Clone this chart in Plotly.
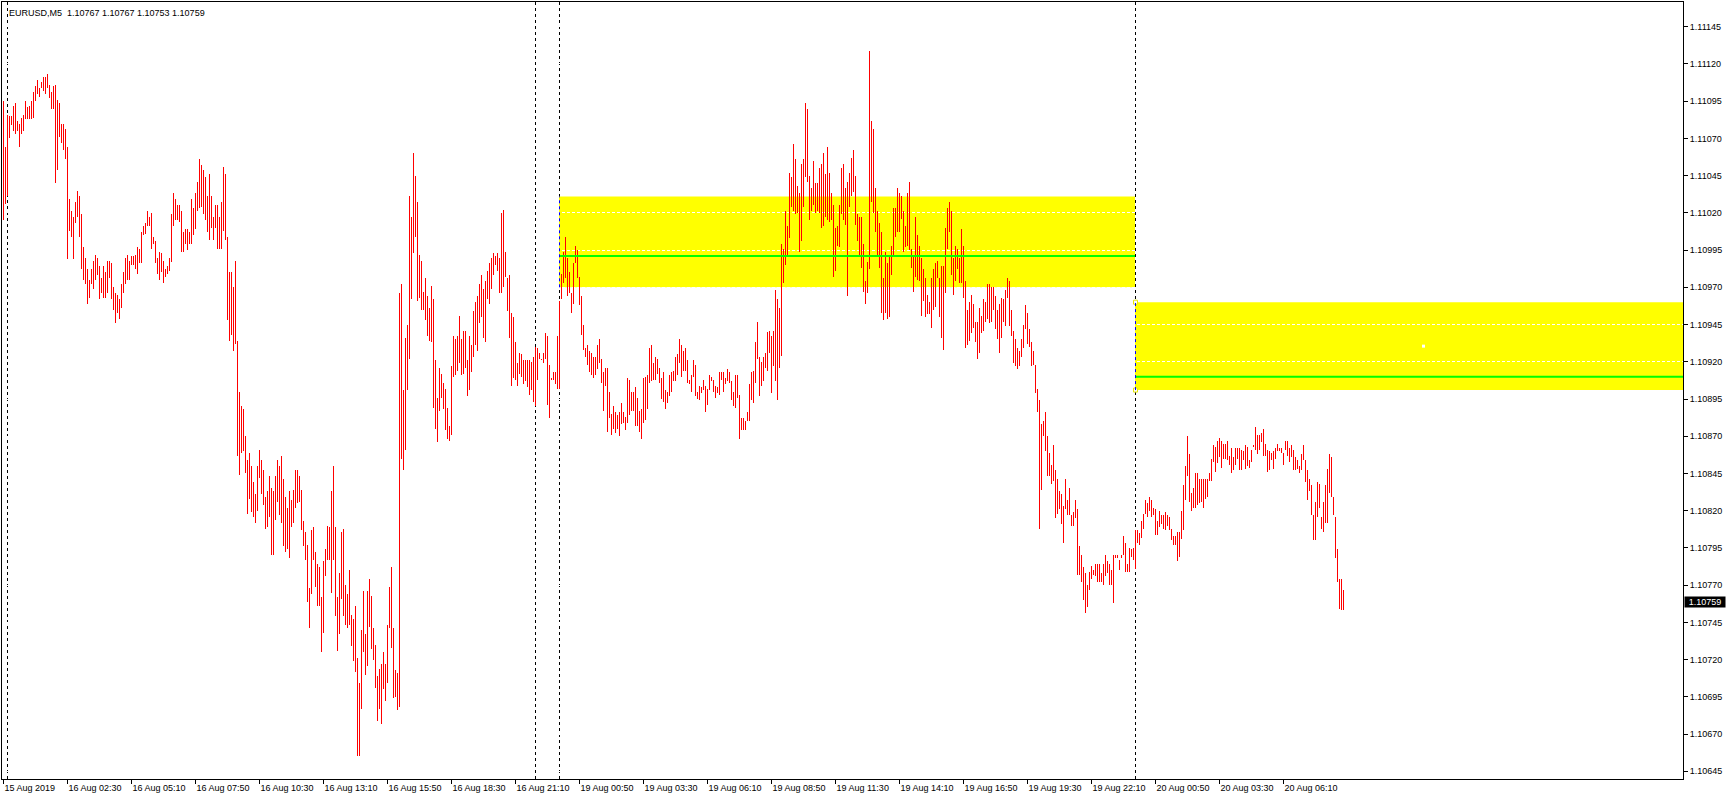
import numpy as np
import plotly.graph_objects as go

SYMBOL = "EURUSD"
TIMEFRAME = "M5"

# High / low of each M5 bar (bar index 0 = leftmost bar)
HIGH = [
    1.11095, 1.11064, 1.11086, 1.11085, 1.11085, 1.11092, 1.11094, 1.11082, 1.11080, 1.11084,
    1.11086, 1.11095, 1.11091, 1.11092, 1.11095, 1.11101, 1.11105, 1.11109, 1.11104, 1.11108,
    1.11111, 1.11111, 1.11113, 1.11106, 1.11101, 1.11105, 1.11106, 1.11096, 1.11094, 1.11080,
    1.11080, 1.11076, 1.11064, 1.11029, 1.11021, 1.11017, 1.11027, 1.11035, 1.11031, 1.11019,
    1.10997, 1.10990, 1.10982, 1.10975, 1.10982, 1.10988, 1.10992, 1.10990, 1.10984, 1.10976,
    1.10984, 1.10980, 1.10988, 1.10988, 1.10986, 1.10970, 1.10966, 1.10965, 1.10962, 1.10972,
    1.10980, 1.10990, 1.10992, 1.10988, 1.10991, 1.10991, 1.10992, 1.10997, 1.10996, 1.11007,
    1.11011, 1.11013, 1.11021, 1.11017, 1.11020, 1.11004, 1.11001, 1.10990, 1.10994, 1.10993,
    1.10988, 1.10982, 1.10984, 1.10990, 1.11019, 1.11033, 1.11029, 1.11025, 1.11025, 1.11021,
    1.11007, 1.11009, 1.11009, 1.11007, 1.11029, 1.11023, 1.11033, 1.11041, 1.11056, 1.11052,
    1.11049, 1.11044, 1.11031, 1.11046, 1.11031, 1.11017, 1.11025, 1.11025, 1.11017, 1.11027,
    1.11051, 1.11046, 1.11004, 1.10980, 1.10980, 1.10970, 1.10988, 1.10934, 1.10900, 1.10890,
    1.10888, 1.10870, 1.10854, 1.10859, 1.10850, 1.10839, 1.10831, 1.10850, 1.10861, 1.10854,
    1.10847, 1.10829, 1.10833, 1.10843, 1.10835, 1.10833, 1.10843, 1.10854, 1.10850, 1.10857,
    1.10841, 1.10829, 1.10822, 1.10833, 1.10827, 1.10834, 1.10847, 1.10847, 1.10843, 1.10834,
    1.10813, 1.10806, 1.10797, 1.10768, 1.10807, 1.10809, 1.10792, 1.10784, 1.10782, 1.10762,
    1.10786, 1.10794, 1.10810, 1.10809, 1.10833, 1.10850, 1.10809, 1.10762, 1.10778, 1.10806,
    1.10808, 1.10770, 1.10764, 1.10780, 1.10750, 1.10747, 1.10756, 1.10721, 1.10704, 1.10740,
    1.10766, 1.10737, 1.10766, 1.10774, 1.10763, 1.10741, 1.10730, 1.10709, 1.10714, 1.10717,
    1.10725, 1.10717, 1.10743, 1.10769, 1.10782, 1.10741, 1.10713, 1.10711, 1.10966, 1.10972,
    1.10901, 1.10936, 1.10945, 1.11031, 1.11017, 1.11060, 1.11045, 1.11027, 1.10992, 1.10988,
    1.10967, 1.10976, 1.10964, 1.10956, 1.10971, 1.10962, 1.10921, 1.10896, 1.10916, 1.10912,
    1.10906, 1.10902, 1.10889, 1.10877, 1.10917, 1.10937, 1.10935, 1.10937, 1.10951, 1.10935,
    1.10941, 1.10941, 1.10921, 1.10937, 1.10931, 1.10954, 1.10960, 1.10964, 1.10972, 1.10978,
    1.10969, 1.10974, 1.10981, 1.10986, 1.10990, 1.10993, 1.10991, 1.10993, 1.10990, 1.11020,
    1.11022, 1.10994, 1.10976, 1.10978, 1.10953, 1.10950, 1.10933, 1.10919, 1.10926, 1.10925,
    1.10921, 1.10921, 1.10921, 1.10921, 1.10920, 1.10923, 1.10930, 1.10929, 1.10926, 1.10922,
    1.10926, 1.10939, 1.10937, 1.10918, 1.10909, 1.10913, 1.10913, 1.10937, 1.10961, 1.10979,
    1.10994, 1.11004, 1.10990, 1.10980, 1.10966, 1.10986, 1.10998, 1.10995, 1.10977, 1.10964,
    1.10945, 1.10929, 1.10931, 1.10927, 1.10926, 1.10923, 1.10923, 1.10931, 1.10935, 1.10922,
    1.10913, 1.10916, 1.10916, 1.10900, 1.10885, 1.10890, 1.10886, 1.10884, 1.10886, 1.10892,
    1.10886, 1.10883, 1.10909, 1.10908, 1.10900, 1.10900, 1.10903, 1.10896, 1.10887, 1.10888,
    1.10909, 1.10910, 1.10911, 1.10929, 1.10931, 1.10919, 1.10923, 1.10922, 1.10916, 1.10909,
    1.10913, 1.10901, 1.10900, 1.10911, 1.10913, 1.10914, 1.10923, 1.10925, 1.10935, 1.10931,
    1.10927, 1.10929, 1.10921, 1.10908, 1.10911, 1.10921, 1.10918, 1.10900, 1.10904, 1.10903,
    1.10908, 1.10904, 1.10902, 1.10911, 1.10910, 1.10908, 1.10904, 1.10903, 1.10913, 1.10913,
    1.10913, 1.10909, 1.10915, 1.10913, 1.10907, 1.10900, 1.10911, 1.10911, 1.10898, 1.10882,
    1.10882, 1.10880, 1.10886, 1.10905, 1.10913, 1.10914, 1.10933, 1.10947, 1.10923, 1.10920,
    1.10923, 1.10926, 1.10940, 1.10941, 1.10937, 1.10941, 1.10968, 1.10962, 1.10956, 1.10999,
    1.10996, 1.11021, 1.11011, 1.11047, 1.11044, 1.11066, 1.11056, 1.11038, 1.11033, 1.11053,
    1.11056, 1.11094, 1.11090, 1.11045, 1.11037, 1.11055, 1.11040, 1.11040, 1.11050, 1.11053,
    1.11060, 1.11046, 1.11064, 1.11047, 1.11033, 1.11025, 1.11010, 1.11011, 1.11025, 1.11050,
    1.11053, 1.11037, 1.11041, 1.11047, 1.11057, 1.11062, 1.11045, 1.11019, 1.11017, 1.11017,
    1.10999, 1.10974, 1.10987, 1.11129, 1.11082, 1.11076, 1.11037, 1.11021, 1.11013, 1.11007,
    1.10976, 1.10994, 1.10986, 1.10992, 1.10998, 1.11023, 1.11023, 1.11037, 1.11033, 1.11031,
    1.11021, 1.11011, 1.11033, 1.11041, 1.10996, 1.10992, 1.11017, 1.11005, 1.10998, 1.10990,
    1.10982, 1.10976, 1.10965, 1.10960, 1.10976, 1.10982, 1.10986, 1.10988, 1.10976, 1.10984,
    1.10984, 1.11010, 1.11023, 1.11027, 1.11021, 1.10990, 1.10998, 1.10996, 1.10990, 1.11009,
    1.10998, 1.10974, 1.10955, 1.10960, 1.10965, 1.10959, 1.10947, 1.10947, 1.10956, 1.10951,
    1.10962, 1.10960, 1.10972, 1.10972, 1.10970, 1.10970, 1.10964, 1.10955, 1.10959, 1.10963,
    1.10962, 1.10968, 1.10976, 1.10974, 1.10955, 1.10941, 1.10935, 1.10929, 1.10927, 1.10935,
    1.10945, 1.10958, 1.10953, 1.10942, 1.10933, 1.10927, 1.10918, 1.10902, 1.10894, 1.10878,
    1.10880, 1.10886, 1.10870, 1.10859, 1.10851, 1.10864, 1.10847, 1.10841, 1.10833, 1.10831,
    1.10823, 1.10841, 1.10827, 1.10835, 1.10817, 1.10819, 1.10827, 1.10821, 1.10796, 1.10790,
    1.10782, 1.10778, 1.10770, 1.10779, 1.10783, 1.10780, 1.10784, 1.10784, 1.10784, 1.10778,
    1.10784, 1.10790, 1.10786, 1.10784, 1.10780, 1.10790, 1.10790, 1.10790, 1.10787, 1.10790,
    1.10803, 1.10798, 1.10784, 1.10795, 1.10794, 1.10795, 1.10807, 1.10807, 1.10805, 1.10813,
    1.10818, 1.10827, 1.10825, 1.10829, 1.10827, 1.10822, 1.10821, 1.10813, 1.10820, 1.10817,
    1.10817, 1.10819, 1.10817, 1.10816, 1.10808, 1.10803, 1.10803, 1.10806, 1.10806, 1.10820,
    1.10837, 1.10850, 1.10870, 1.10858, 1.10832, 1.10835, 1.10845, 1.10845, 1.10841, 1.10841,
    1.10841, 1.10841, 1.10841, 1.10845, 1.10855, 1.10864, 1.10863, 1.10867, 1.10869, 1.10867,
    1.10865, 1.10865, 1.10867, 1.10857, 1.10862, 1.10856, 1.10862, 1.10862, 1.10862, 1.10861,
    1.10860, 1.10864, 1.10863, 1.10854, 1.10861, 1.10864, 1.10876, 1.10871, 1.10871, 1.10872,
    1.10875, 1.10865, 1.10861, 1.10860, 1.10859, 1.10860, 1.10862, 1.10865, 1.10862, 1.10862,
    1.10859, 1.10867, 1.10867, 1.10862, 1.10864, 1.10861, 1.10856, 1.10854, 1.10850, 1.10858,
    1.10864, 1.10854, 1.10847, 1.10841, 1.10837, 1.10817, 1.10826, 1.10839, 1.10838, 1.10816,
    1.10826, 1.10837, 1.10848, 1.10858, 1.10856, 1.10829, 1.10816, 1.10794, 1.10774, 1.10774,
    1.10767,
]

LOW = [
    1.11015, 1.11026, 1.11031, 1.11070, 1.11079, 1.11075, 1.11073, 1.11075, 1.11064, 1.11073,
    1.11075, 1.11083, 1.11083, 1.11083, 1.11083, 1.11084, 1.11095, 1.11100, 1.11098, 1.11104,
    1.11102, 1.11100, 1.11104, 1.11097, 1.11090, 1.11090, 1.11040, 1.11049, 1.11071, 1.11067,
    1.11062, 1.11056, 1.10989, 1.11008, 1.11004, 1.10989, 1.11013, 1.11017, 1.11004, 1.10982,
    1.10975, 1.10972, 1.10959, 1.10963, 1.10972, 1.10969, 1.10975, 1.10978, 1.10962, 1.10966,
    1.10963, 1.10963, 1.10966, 1.10976, 1.10962, 1.10955, 1.10946, 1.10953, 1.10949, 1.10956,
    1.10966, 1.10972, 1.10975, 1.10975, 1.10985, 1.10985, 1.10982, 1.10979, 1.10986, 1.10986,
    1.11005, 1.11006, 1.11011, 1.11011, 1.10996, 1.10999, 1.10986, 1.10979, 1.10975, 1.10980,
    1.10973, 1.10977, 1.10979, 1.10981, 1.10987, 1.11011, 1.11015, 1.11015, 1.11014, 1.10994,
    1.10994, 1.10999, 1.10995, 1.10999, 1.10999, 1.11005, 1.11009, 1.11021, 1.11023, 1.11024,
    1.11019, 1.11015, 1.11007, 1.11002, 1.11010, 1.11002, 1.11010, 1.10996, 1.10996, 1.10996,
    1.11008, 1.11002, 1.10948, 1.10934, 1.10938, 1.10927, 1.10932, 1.10857, 1.10844, 1.10859,
    1.10860, 1.10845, 1.10818, 1.10828, 1.10819, 1.10816, 1.10812, 1.10820, 1.10842, 1.10831,
    1.10824, 1.10808, 1.10809, 1.10816, 1.10790, 1.10790, 1.10814, 1.10826, 1.10817, 1.10812,
    1.10796, 1.10792, 1.10794, 1.10788, 1.10809, 1.10812, 1.10822, 1.10825, 1.10826, 1.10807,
    1.10796, 1.10787, 1.10759, 1.10741, 1.10764, 1.10787, 1.10769, 1.10756, 1.10756, 1.10725,
    1.10738, 1.10776, 1.10787, 1.10787, 1.10765, 1.10787, 1.10749, 1.10726, 1.10737, 1.10761,
    1.10749, 1.10743, 1.10741, 1.10743, 1.10729, 1.10719, 1.10712, 1.10655, 1.10655, 1.10687,
    1.10725, 1.10710, 1.10716, 1.10742, 1.10727, 1.10720, 1.10701, 1.10679, 1.10687, 1.10677,
    1.10700, 1.10692, 1.10704, 1.10741, 1.10728, 1.10694, 1.10695, 1.10686, 1.10688, 1.10855,
    1.10847, 1.10861, 1.10901, 1.10922, 1.10962, 1.10993, 1.11004, 1.10961, 1.10963, 1.10955,
    1.10955, 1.10948, 1.10937, 1.10934, 1.10933, 1.10889, 1.10875, 1.10866, 1.10887, 1.10896,
    1.10888, 1.10874, 1.10868, 1.10867, 1.10871, 1.10910, 1.10911, 1.10914, 1.10919, 1.10911,
    1.10912, 1.10916, 1.10897, 1.10901, 1.10913, 1.10923, 1.10931, 1.10927, 1.10946, 1.10950,
    1.10936, 1.10933, 1.10962, 1.10959, 1.10969, 1.10978, 1.10985, 1.10981, 1.10966, 1.10966,
    1.10970, 1.10977, 1.10954, 1.10936, 1.10904, 1.10909, 1.10908, 1.10904, 1.10912, 1.10910,
    1.10905, 1.10907, 1.10903, 1.10898, 1.10901, 1.10893, 1.10890, 1.10908, 1.10922, 1.10921,
    1.10919, 1.10922, 1.10891, 1.10882, 1.10908, 1.10908, 1.10905, 1.10902, 1.10902, 1.10962,
    1.10973, 1.10976, 1.10964, 1.10966, 1.10953, 1.10959, 1.10986, 1.10976, 1.10958, 1.10938,
    1.10928, 1.10923, 1.10918, 1.10913, 1.10911, 1.10909, 1.10911, 1.10915, 1.10919, 1.10906,
    1.10887, 1.10904, 1.10873, 1.10882, 1.10871, 1.10875, 1.10872, 1.10875, 1.10870, 1.10878,
    1.10879, 1.10874, 1.10879, 1.10884, 1.10887, 1.10887, 1.10877, 1.10877, 1.10873, 1.10868,
    1.10879, 1.10881, 1.10888, 1.10906, 1.10907, 1.10908, 1.10908, 1.10912, 1.10906, 1.10895,
    1.10893, 1.10888, 1.10892, 1.10897, 1.10900, 1.10907, 1.10907, 1.10911, 1.10919, 1.10910,
    1.10914, 1.10914, 1.10906, 1.10905, 1.10900, 1.10910, 1.10897, 1.10895, 1.10894, 1.10899,
    1.10901, 1.10886, 1.10891, 1.10901, 1.10907, 1.10900, 1.10896, 1.10899, 1.10898, 1.10908,
    1.10900, 1.10905, 1.10907, 1.10906, 1.10894, 1.10890, 1.10889, 1.10896, 1.10868, 1.10874,
    1.10874, 1.10874, 1.10880, 1.10880, 1.10894, 1.10892, 1.10906, 1.10922, 1.10897, 1.10904,
    1.10907, 1.10916, 1.10914, 1.10926, 1.10899, 1.10917, 1.10907, 1.10894, 1.10916, 1.10924,
    1.10973, 1.10985, 1.10992, 1.11003, 1.11024, 1.11021, 1.11019, 1.11020, 1.10994, 1.11001,
    1.11024, 1.11044, 1.11041, 1.11015, 1.11021, 1.11025, 1.11020, 1.11021, 1.11020, 1.11010,
    1.11011, 1.11017, 1.11015, 1.11014, 1.11015, 1.10977, 1.10981, 1.10998, 1.10997, 1.11019,
    1.11015, 1.11012, 1.10964, 1.11024, 1.11031, 1.11034, 1.11012, 1.11001, 1.10991, 1.10983,
    1.10967, 1.10959, 1.10966, 1.10982, 1.11027, 1.11020, 1.11007, 1.10992, 1.10983, 1.10953,
    1.10948, 1.10953, 1.10949, 1.10950, 1.10978, 1.10991, 1.11004, 1.11007, 1.11007, 1.11016,
    1.10994, 1.10997, 1.10998, 1.10995, 1.10983, 1.10967, 1.10977, 1.10975, 1.10974, 1.10951,
    1.10961, 1.10950, 1.10952, 1.10952, 1.10943, 1.10955, 1.10957, 1.10976, 1.10950, 1.10936,
    1.10928, 1.10966, 1.10996, 1.11007, 1.10978, 1.10965, 1.10974, 1.10982, 1.10973, 1.10973,
    1.10963, 1.10929, 1.10931, 1.10934, 1.10939, 1.10943, 1.10933, 1.10922, 1.10926, 1.10939,
    1.10941, 1.10947, 1.10949, 1.10946, 1.10947, 1.10955, 1.10942, 1.10935, 1.10926, 1.10936,
    1.10947, 1.10944, 1.10963, 1.10944, 1.10937, 1.10919, 1.10917, 1.10915, 1.10917, 1.10923,
    1.10929, 1.10942, 1.10932, 1.10930, 1.10917, 1.10918, 1.10899, 1.10886, 1.10808, 1.10834,
    1.10870, 1.10860, 1.10843, 1.10843, 1.10838, 1.10840, 1.10815, 1.10818, 1.10821, 1.10811,
    1.10798, 1.10821, 1.10817, 1.10817, 1.10810, 1.10810, 1.10815, 1.10777, 1.10777, 1.10772,
    1.10760, 1.10751, 1.10755, 1.10767, 1.10774, 1.10777, 1.10776, 1.10772, 1.10772, 1.10772,
    1.10770, 1.10776, 1.10778, 1.10770, 1.10770, 1.10758, 1.10788, 1.10788, 1.10780, 1.10788,
    1.10790, 1.10779, 1.10779, 1.10779, 1.10789, 1.10787, 1.10781, 1.10798, 1.10797, 1.10802,
    1.10808, 1.10818, 1.10816, 1.10820, 1.10816, 1.10817, 1.10804, 1.10804, 1.10809, 1.10811,
    1.10808, 1.10807, 1.10810, 1.10807, 1.10800, 1.10797, 1.10797, 1.10786, 1.10789, 1.10801,
    1.10807, 1.10827, 1.10843, 1.10826, 1.10820, 1.10822, 1.10822, 1.10824, 1.10825, 1.10826,
    1.10822, 1.10828, 1.10829, 1.10840, 1.10840, 1.10853, 1.10846, 1.10852, 1.10856, 1.10849,
    1.10855, 1.10855, 1.10854, 1.10851, 1.10845, 1.10847, 1.10851, 1.10855, 1.10847, 1.10847,
    1.10854, 1.10848, 1.10850, 1.10849, 1.10853, 1.10863, 1.10861, 1.10858, 1.10861, 1.10866,
    1.10857, 1.10857, 1.10846, 1.10847, 1.10854, 1.10848, 1.10855, 1.10860, 1.10860, 1.10859,
    1.10851, 1.10861, 1.10857, 1.10853, 1.10856, 1.10847, 1.10847, 1.10848, 1.10845, 1.10847,
    1.10854, 1.10839, 1.10827, 1.10833, 1.10817, 1.10800, 1.10800, 1.10816, 1.10822, 1.10808,
    1.10806, 1.10812, 1.10812, 1.10832, 1.10829, 1.10817, 1.10788, 1.10772, 1.10754, 1.10753,
    1.10753,
]

LAST_OPEN = 1.10767
LAST_CLOSE = 1.10759

TICK_BARS = [0, 32, 64, 96, 128, 160, 192, 224, 256, 288, 320,
             352, 384, 416, 448, 480, 512, 544, 576, 608, 640]
TICK_TEXT = ["15 Aug 2019", "16 Aug 02:30", "16 Aug 05:10", "16 Aug 07:50",
             "16 Aug 10:30", "16 Aug 13:10", "16 Aug 15:50", "16 Aug 18:30",
             "16 Aug 21:10", "19 Aug 00:50", "19 Aug 03:30", "19 Aug 06:10",
             "19 Aug 08:50", "19 Aug 11:30", "19 Aug 14:10", "19 Aug 16:50",
             "19 Aug 19:30", "19 Aug 22:10", "20 Aug 00:50", "20 Aug 03:30",
             "20 Aug 06:10"]
PRICE_TICKS = [1.10645, 1.10670, 1.10695, 1.10720, 1.10745, 1.10770, 1.10795,
               1.10820, 1.10845, 1.10870, 1.10895, 1.10920, 1.10945, 1.10970,
               1.10995, 1.11020, 1.11045, 1.11070, 1.11095, 1.11120, 1.11145]

SEPARATOR_BARS = [2, 266, 278, 566]

ZONE_START = [278, 566]
ZONE_END = [566, None]          # None: runs off the right edge
ZONE_TOP = [1.11031, 1.10960]
ZONE_BOTTOM = [1.10970, 1.10901]
ZONE_PIVOT = [1.10991, 1.10910]
HANDLE_CENTER_BAR = 710

# ---------------------------------------------------------------- styling
BAR_COLOR = "#ff0000"
FONT = "Liberation Sans, Arial, sans-serif"
X_MIN, X_MAX = -0.75, 839.75
Y_MIN, Y_MAX = 1.1063983, 1.1116159

# each bar is a vertical high-low segment (open/close ticks are not drawn at this zoom)
seg_x, seg_y = [], []
for i, (h, l) in enumerate(zip(HIGH, LOW)):
    seg_x += [i, i, None]
    seg_y += [l, h, None]

fig = go.Figure()
fig.add_trace(go.Scatter(
    x=seg_x, y=seg_y, mode="lines",
    line=dict(color=BAR_COLOR, width=1),
    hoverinfo="skip", showlegend=False,
))

shapes = []
for s, e, top, bot in zip(ZONE_START, ZONE_END, ZONE_TOP, ZONE_BOTTOM):
    x_end = X_MAX if e is None else e - 0.25
    shapes.append(dict(type="rect", xref="x", yref="y", x0=s - 0.25, x1=x_end,
                       y0=bot, y1=top, fillcolor="#ffff00", line=dict(width=0),
                       layer="below"))
for b in SEPARATOR_BARS:
    shapes.append(dict(type="line", xref="x", yref="paper", x0=b, x1=b, y0=0, y1=1,
                       line=dict(color="black", width=1, dash="3px,3px"),
                       layer="between"))
for s, e, top, bot, piv in zip(ZONE_START, ZONE_END, ZONE_TOP, ZONE_BOTTOM, ZONE_PIVOT):
    x_end = X_MAX if e is None else e - 0.25
    shapes.append(dict(type="line", xref="x", yref="y", x0=s - 0.25, x1=x_end,
                       y0=piv, y1=piv, line=dict(color="#00ff00", width=2),
                       layer="above"))
    shapes.append(dict(type="line", xref="x", yref="y", x0=s, x1=s,
                       y0=bot, y1=top, line=dict(color="#0000ff", width=1, dash="3px,3px"),
                       layer="above"))

# selection handles of the second zone
fig.add_trace(go.Scatter(
    x=[ZONE_START[1], ZONE_START[1]], y=[ZONE_TOP[1], ZONE_BOTTOM[1]], mode="markers",
    marker=dict(symbol="square", size=4, color="white", line=dict(color="#e8e800", width=1)),
    hoverinfo="skip", showlegend=False, cliponaxis=False,
))
fig.add_trace(go.Scatter(
    x=[HANDLE_CENTER_BAR], y=[(ZONE_TOP[1] + ZONE_BOTTOM[1]) / 2], mode="markers",
    marker=dict(symbol="square", size=3, color="white", line=dict(width=0)),
    hoverinfo="skip", showlegend=False,
))

title = f"{SYMBOL},{TIMEFRAME}\u00a0\u00a0{LAST_OPEN:.5f} {HIGH[-1]:.5f} {LOW[-1]:.5f} {LAST_CLOSE:.5f}"

fig.update_layout(
    width=1729, height=800,
    margin=dict(l=2, r=46, t=2, b=21, autoexpand=False),
    paper_bgcolor="white", plot_bgcolor="white",
    showlegend=False,
    font=dict(family=FONT, size=9, color="black"),
    shapes=shapes,
    annotations=[
        dict(text=title, xref="paper", yref="paper", x=0, y=1, xanchor="left", yanchor="top",
             xshift=5, yshift=-4, showarrow=False, font=dict(family=FONT, size=9, color="black")),
        dict(text=f"{LAST_CLOSE:.5f}", xref="paper", yref="y", x=1, y=LAST_CLOSE,
             xanchor="left", yanchor="middle", xshift=1, showarrow=False,
             bgcolor="black", font=dict(family=FONT, size=9, color="white"),
             width=40, height=10, borderpad=0),
    ],
)
fig.update_xaxes(
    range=[X_MIN, X_MAX], tickmode="array", tickvals=TICK_BARS, ticktext=TICK_TEXT,
    ticks="outside", ticklen=4, tickcolor="black", tickwidth=1, tickangle=0,
    ticklabelposition="outside right", showgrid=False, zeroline=False,
    showline=True, linecolor="black", linewidth=1, mirror=True, automargin=False,
    tickfont=dict(family=FONT, size=9, color="black"),
)
fig.update_yaxes(
    range=[Y_MIN, Y_MAX], side="right", tickmode="array", tickvals=PRICE_TICKS,
    tickformat=".5f", ticks="outside", ticklen=4, tickcolor="black", tickwidth=1,
    showgrid=True, gridcolor="white", gridwidth=1, griddash="3px,2px",
    zeroline=False, showline=True, linecolor="black", linewidth=1, mirror=True,
    automargin=False, tickfont=dict(family=FONT, size=9, color="black"),
)

POST = (
    "document.body.style.margin='0';document.body.style.overflow='hidden';"
    "document.querySelectorAll('.scatterlayer path.js-line').forEach("
    "function(p){p.setAttribute('shape-rendering','crispEdges');});"
)
fig.write_html("out.html", config={"displayModeBar": False}, post_script=POST)
